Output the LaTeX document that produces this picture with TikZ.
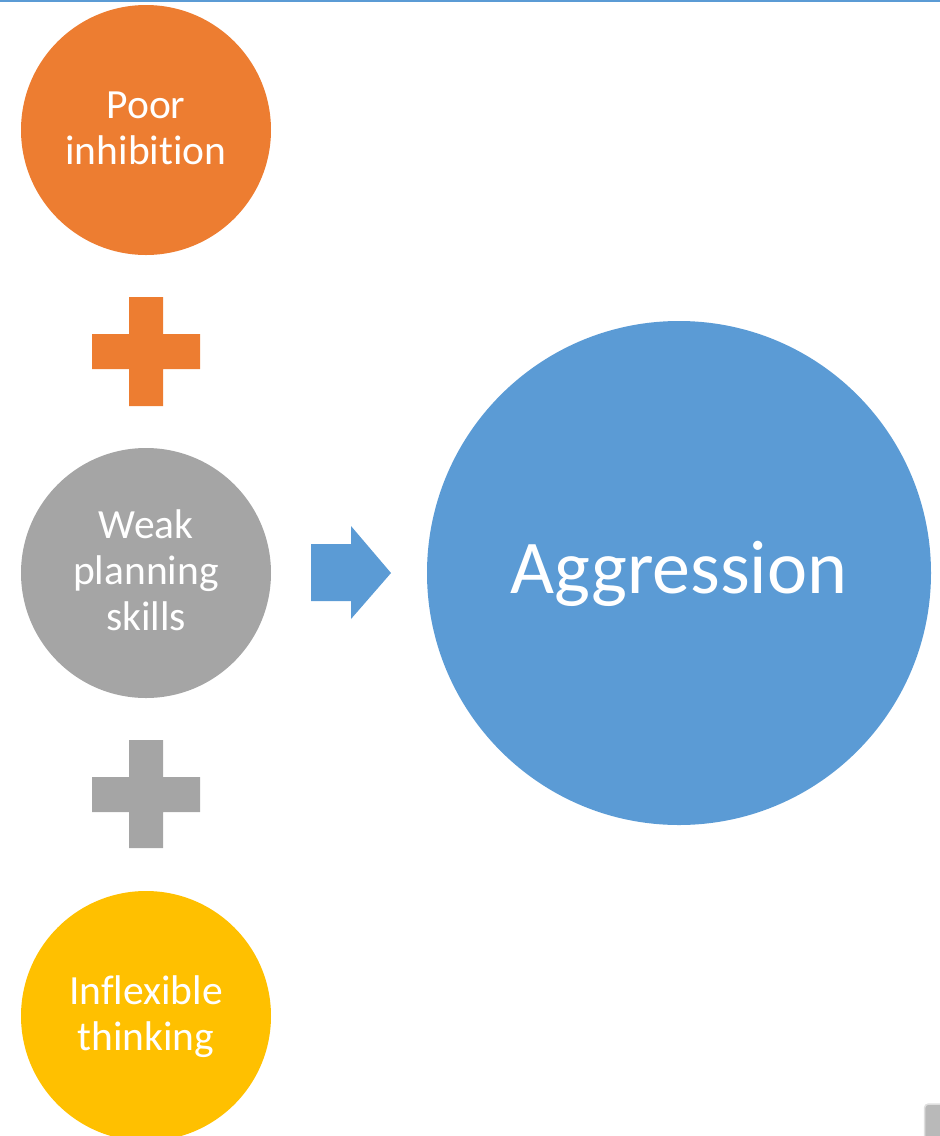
\documentclass[tikz,border=0pt]{standalone}
\usepackage{fontspec}
\setmainfont{Carlito}[Ligatures=NoCommon]
\definecolor{cOrange}{HTML}{ED7D31}
\definecolor{cGray}{HTML}{A5A5A5}
\definecolor{cYellow}{HTML}{FFC000}
\definecolor{cBlue}{HTML}{5B9BD5}
\newcommand\ls{\rule[-12pt]{0pt}{46pt}}
\newcommand\lsbig{\rule[-26pt]{0pt}{92pt}}
\tikzset{
  smallcirc/.style={circle, minimum size=250pt, inner sep=0pt, draw=none, text=white, align=center,
    font=\fontsize{41.5}{46}\selectfont},
  bigcirc/.style={circle, minimum size=504pt, inner sep=0pt, draw=none, text=white, align=center,
    font=\fontsize{76}{92}\selectfont},
}
\begin{document}
\begin{tikzpicture}[x=1pt,y=-1pt]
\useasboundingbox (0,0) rectangle (940,1136);
% top rule
\fill[cBlue] (0,0) rectangle (940,1.6);
% circles
\node[smallcirc, fill=cOrange] (poor) at (146,130) {\ls Poor\\\ls inhibition};
\node[smallcirc, fill=cGray] (weak) at (146,573) {\ls Weak\\\ls planning\\\ls skills};
\node[smallcirc, fill=cYellow] (infl) at (146,1016) {\ls Inflexible\\\ls thinking};
\node[bigcirc, fill=cBlue] (aggr) at (679,573) {\lsbig Aggression};
% plus signs
\fill[cOrange] (129,297) -- (163,297) -- (163,334) -- (200,334) -- (200,369) -- (163,369)
  -- (163,406) -- (129,406) -- (129,369) -- (92,369) -- (92,334) -- (129,334) -- cycle;
\fill[cGray] (129,740) -- (163,740) -- (163,777) -- (200,777) -- (200,812) -- (163,812)
  -- (163,848) -- (129,848) -- (129,812) -- (92,812) -- (92,777) -- (129,777) -- cycle;
% block arrow
\fill[cBlue] (311,544) -- (351,544) -- (351,526) -- (391,573) -- (351,619) -- (351,601) -- (311,601) -- cycle;
% corner widget
\draw[draw=gray!25, fill=gray!55, line width=1.5pt, rounded corners=4pt] (924.5,1104) rectangle (950,1150);
\end{tikzpicture}
\end{document}
